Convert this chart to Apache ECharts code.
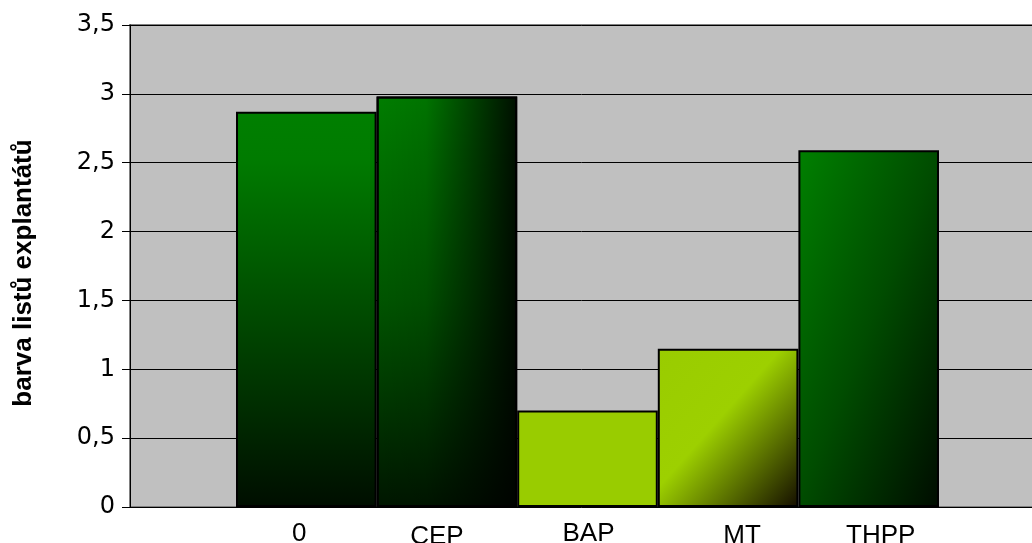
<!DOCTYPE html>
<html>
<head>
<meta charset="utf-8">
<script src="https://cdn.jsdelivr.net/npm/echarts@6/dist/echarts.min.js"></script>
<style>
  html, body { margin: 0; padding: 0; background: #ffffff; }
  #chart { width: 1032px; height: 543px; }
</style>
</head>
<body>
<div id="chart"></div>
<script>
// Leaf colour score of explants per treatment
const categories = ['0', 'CEP', 'BAP', 'MT', 'THPP'];
const values = [2.87, 2.98, 0.70, 1.15, 2.59];
const yTicks = [0, 0.5, 1, 1.5, 2, 2.5, 3, 3.5];
const yTitle = 'barva listů explantátů';

const FONT = '"Liberation Sans", Arial, sans-serif';
const TICK_FONT = '"DejaVu Sans", Verdana, sans-serif';

// linear gradient helper (coordinates relative to each bar)
const lg = (x, y, x2, y2, stops) => ({
  type: 'linear', x, y, x2, y2,
  colorStops: stops.map(([offset, color]) => ({ offset, color }))
});

// per-bar fills
const fills = [
  lg(0, 0, 0, 1, [[0, '#007f00'], [0.12, '#007b00'], [1, '#000e00']]),
  lg(0, 0, 0, 1, [[0, '#007d00'], [0.5, '#005400'], [1, '#001600']]),
  '#99cc00',
  lg(0, 0, 1.12, 0.88, [[0, '#99cc00'], [0.44, '#9dd000'], [1, '#140d00']]),
  lg(0, 0, 1.73, 0.27, [[0, '#008000'], [0.5, '#004c00'], [1, '#000c00']])
];
// extra horizontal shading laid over the CEP bar
const cepShade = lg(0, 0, 1, 0, [[0, 'rgba(0,0,0,0)'], [0.35, 'rgba(0,0,0,0.08)'], [1, 'rgba(0,0,0,0.88)']]);

// small label offsets [dx, dy] per category
const labelNudge = [[-7, 0], [-10, 3], [1, 0], [14, 2], [12, 2]];

const yMin = yTicks[0];
const yMax = yTicks[yTicks.length - 1];
const yStep = yTicks[1] - yTicks[0];

const rich = {};
labelNudge.forEach(([dx, dy], i) => {
  rich['l' + i] = {
    fontFamily: FONT, fontSize: 26, color: '#000',
    padding: [dy, dx < 0 ? -2 * dx : 0, 0, dx > 0 ? 2 * dx : 0]
  };
});

const chart = echarts.init(document.getElementById('chart'), null, { renderer: 'canvas' });

chart.setOption({
  backgroundColor: '#ffffff',
  animation: false,
  grid: [
    { left: 130, top: 25, width: 910, height: 482, show: true, outerBoundsMode: 'none', containLabel: false,
      backgroundColor: '#c0c0c0', borderColor: '#808080', borderWidth: 2 },
    { left: 236, top: 25, width: 703, height: 482, outerBoundsMode: 'none', containLabel: false }
  ],
  xAxis: [
    { gridIndex: 0, type: 'value', min: 0, max: 1, show: false },
    { gridIndex: 1, type: 'category', data: categories,
      axisLine: { show: false }, axisTick: { show: false },
      axisLabel: { margin: 14, formatter: (v, i) => '{l' + i + '|' + v + '}', rich: rich } }
  ],
  yAxis: [
    { gridIndex: 0, type: 'value', min: yMin, max: yMax, interval: yStep,
      name: yTitle, nameLocation: 'middle', nameRotate: 90, nameGap: 93,
      nameTextStyle: { fontFamily: FONT, fontSize: 26, fontWeight: 'bold', color: '#000', padding: [0, 14, 0, 0] },
      axisLine: { show: true, lineStyle: { color: '#000', width: 1 } },
      axisTick: { show: true, length: 8, lineStyle: { color: '#000', width: 1 } },
      axisLabel: { margin: 15, fontFamily: TICK_FONT, fontSize: 24, color: '#000',
        formatter: v => String(v).replace('.', ',') },
      splitLine: { show: true, lineStyle: { color: '#000', width: 1 } } },
    { gridIndex: 1, type: 'value', min: yMin, max: yMax, show: false }
  ],
  series: [
    { type: 'bar', xAxisIndex: 1, yAxisIndex: 1, barWidth: '100%', barGap: '-100%',
      data: values.map((v, i) => ({ value: v, itemStyle: { color: fills[i] } })),
      itemStyle: { borderColor: '#000', borderWidth: 2 } },
    { type: 'bar', xAxisIndex: 1, yAxisIndex: 1, barWidth: '100%', barGap: '-100%', silent: true,
      data: values.map((v, i) => (categories[i] === 'CEP' ? v : '-')),
      itemStyle: { color: cepShade, borderColor: '#000', borderWidth: 2 } }
  ]
});
</script>
</body>
</html>
